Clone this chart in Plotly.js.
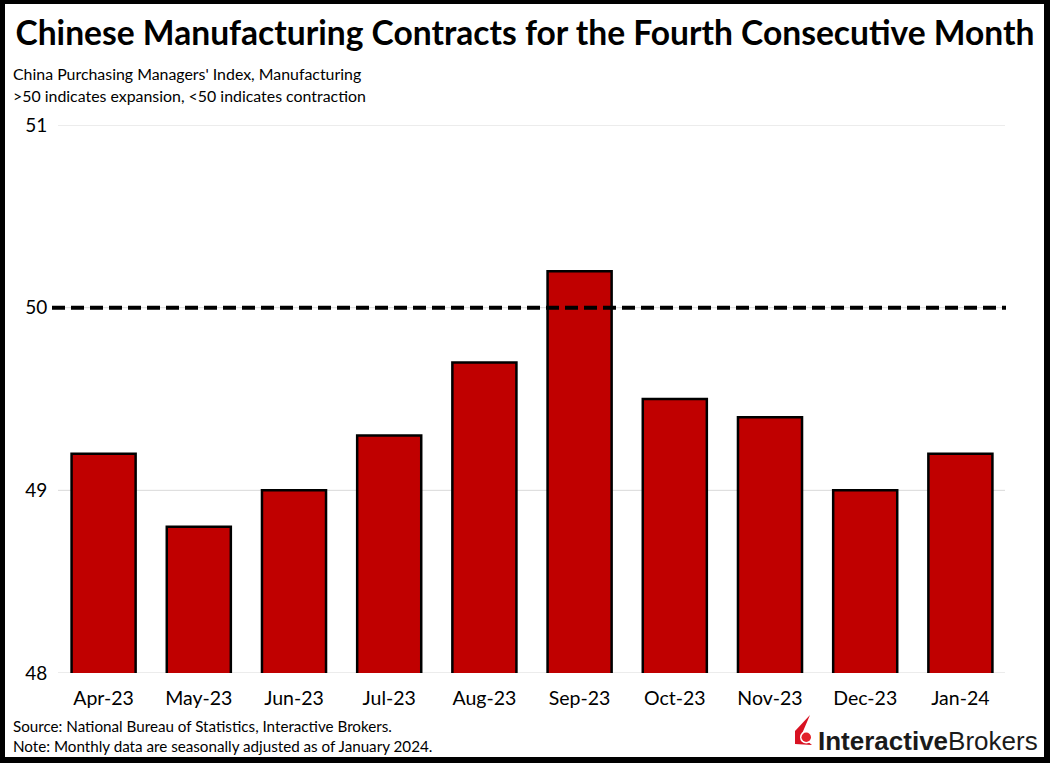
<!DOCTYPE html>
<html>
<head>
<meta charset="utf-8">
<script src="https://cdn.plot.ly/plotly-3.0.1.min.js"></script>
<style>
  html, body { margin: 0; padding: 0; background: #fff; }
  #wrap { position: relative; width: 1050px; height: 763px; }
  #chart { width: 1050px; height: 763px; }
  #frame { position: absolute; left: 0; top: 0; width: 1050px; height: 763px; box-sizing: border-box;
           border-style: solid; border-color: #000; border-width: 4px 6px 6px 5px; pointer-events: none; }
</style>
</head>
<body>
<div id="wrap">
  <div id="chart"></div>
  <div id="frame"></div>
</div>
<script>
// ---- data ----
const months = ["Apr-23", "May-23", "Jun-23", "Jul-23", "Aug-23", "Sep-23", "Oct-23", "Nov-23", "Dec-23", "Jan-24"];
const pmi = [49.2, 48.8, 49.0, 49.3, 49.7, 50.2, 49.5, 49.4, 49.0, 49.2];
const threshold = 50;
const yTicks = [48, 49, 50, 51];
const titleText = "Chinese Manufacturing Contracts for the Fourth Consecutive Month";
const subtitle1 = "China Purchasing Managers' Index, Manufacturing";
const subtitle2 = ">50 indicates expansion, <50 indicates contraction";
const source1 = "Source: National Bureau of Statistics, Interactive Brokers.";
const source2 = "Note: Monthly data are seasonally adjusted as of January 2024.";

// ---- layout geometry ----
const W = 1050, H = 763;
const L = 56, R = 42, T = 125, B = 90;
const pw = W - L - R, ph = H - T - B;
const px = v => (v - L) / pw;          // pixel x -> paper x
const py = v => (H - B - v) / ph;      // pixel y -> paper y
const FONT = "Lato, 'Open Sans', sans-serif";

const bars = {
  type: "bar",
  x: months,
  y: pmi,
  base: 0,
  marker: { color: "#C00000", line: { color: "#000", width: 2.5 } },
  hoverinfo: "x+y"
};

function ptsToPath(pts) {
  return "M" + pts.map(p => px(p[0]) + "," + py(p[1])).join(" L") + " Z";
}

const gridShapes = yTicks.map(v => ({
  type: "line", xref: "paper", yref: "y", x0: px(58), x1: px(1005), y0: v, y1: v,
  line: { color: "#d9d9d9", width: 1 }, layer: "below"
}));

const layout = {
  width: W, height: H,
  margin: { l: L, r: R, t: T, b: B },
  paper_bgcolor: "#fff",
  plot_bgcolor: "#fff",
  showlegend: false,
  bargap: 0.327,
  font: { family: FONT, color: "#000" },
  title: {
    text: "<b>" + titleText + "</b>",
    font: { family: FONT, size: 33.6, color: "#000" },
    x: 0.5, xref: "container", xanchor: "center",
    y: 1 - 33 / H, yref: "container", yanchor: "middle"
  },
  xaxis: {
    type: "category",
    showgrid: false, zeroline: false, showline: false,
    ticks: "outside", ticklen: 8, tickcolor: "rgba(0,0,0,0)",
    tickfont: { family: FONT, size: 19.5, color: "#000" },
    fixedrange: true
  },
  yaxis: {
    range: [48, 51],
    tickvals: yTicks,
    ticktext: yTicks.map(String),
    showgrid: false,
    zeroline: false, showline: false,
    ticks: "outside", ticklen: 4, tickcolor: "rgba(0,0,0,0)",
    tickfont: { family: FONT, size: 19, color: "#000" },
    fixedrange: true
  },
  shapes: gridShapes.concat([
    { type: "line", xref: "paper", yref: "y", x0: px(52), x1: px(1006), y0: threshold, y1: threshold,
      line: { color: "#000", width: 4, dash: "13px,6px" }, layer: "above" },
    // logo icon
    { type: "path", xref: "paper", yref: "paper",
      path: ptsToPath([[795, 744], [795, 731], [810, 715], [801, 736], [812, 745]]),
      fillcolor: "#D81222", line: { width: 0 } },
    { type: "circle", xref: "paper", yref: "paper",
      x0: px(800), x1: px(812.5), y0: py(731), y1: py(743.5),
      fillcolor: "#fff", line: { width: 0 } },
    { type: "circle", xref: "paper", yref: "paper",
      x0: px(801.5), x1: px(811), y0: py(732.5), y1: py(742),
      fillcolor: "#E2212B", line: { width: 0 } }
  ]),
  annotations: [
    { text: subtitle1, xref: "paper", yref: "paper", x: px(11), y: py(73), xanchor: "left", yanchor: "middle",
      showarrow: false, font: { family: FONT, size: 15.9, color: "#000" } },
    { text: subtitle2, xref: "paper", yref: "paper", x: px(11), y: py(95), xanchor: "left", yanchor: "middle",
      showarrow: false, font: { family: FONT, size: 15.9, color: "#000" } },
    { text: source1, xref: "paper", yref: "paper", x: px(11), y: py(726), xanchor: "left", yanchor: "middle",
      showarrow: false, font: { family: FONT, size: 15.2, color: "#000" } },
    { text: source2, xref: "paper", yref: "paper", x: px(11), y: py(746), xanchor: "left", yanchor: "middle",
      showarrow: false, font: { family: FONT, size: 15.2, color: "#000" } },
    { text: "<b>Interactive</b>Brokers", xref: "paper", yref: "paper", x: px(816), y: py(741), xanchor: "left", yanchor: "middle",
      showarrow: false, font: { family: "'Liberation Sans', Arial, sans-serif", size: 26, color: "#1a1a1a" } }
  ]
};

Plotly.newPlot("chart", [bars], layout, { displayModeBar: false, staticPlot: true });
</script>
</body>
</html>
